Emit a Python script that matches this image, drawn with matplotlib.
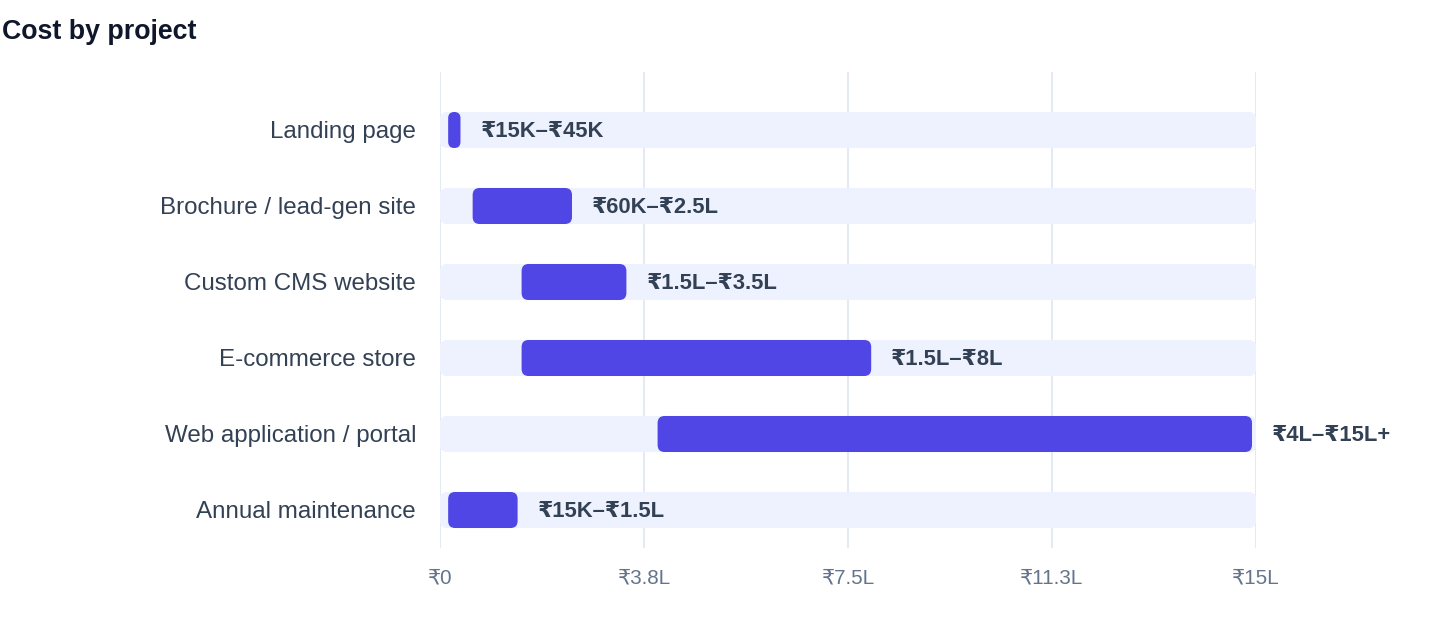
import matplotlib
matplotlib.use("Agg")
import matplotlib.pyplot as plt
from matplotlib.patches import FancyBboxPatch

plt.rcParams['font.family'] = ['Liberation Sans', 'DejaVu Sans']

projects = ["Landing page", "Brochure / lead-gen site", "Custom CMS website",
            "E-commerce store", "Web application / portal", "Annual maintenance"]
low = [0.15, 0.6, 1.5, 1.5, 4.0, 0.15]      # lakh
high = [0.45, 2.5, 3.5, 8.0, 15.0, 1.5]     # lakh
range_labels = ["₹15K–₹45K", "₹60K–₹2.5L", "₹1.5L–₹3.5L", "₹1.5L–₹8L",
                "₹4L–₹15L+", "₹15K–₹1.5L"]
tick_vals = [0, 3.75, 7.5, 11.25, 15]
tick_labels = ["₹0", "₹3.8L", "₹7.5L", "₹11.3L", "₹15L"]
xmax = 15

W, H = 1440, 636
fig = plt.figure(figsize=(W/100, H/100), dpi=100)
ax_l, ax_r, ax_t, ax_b = 440, 1256, 72, 548
ax = fig.add_axes([ax_l/W, 1-ax_b/H, (ax_r-ax_l)/W, (ax_b-ax_t)/H])

ax.set_xlim(0, xmax)
ax.set_ylim(5.5, -0.763)

bar_h = 0.474
px_per_x = (ax_r-ax_l)/xmax
px_per_y = (ax_b-ax_t)/(5.5+0.763)

track_col = "#EEF2FF"
bar_col = "#4F46E5"

def rbox(x0, x1, yc, color, r_px, z, trim_px=0):
    w = x1 - x0 - trim_px/px_per_x
    r = r_px/px_per_x
    r = min(r, w/2)
    p = FancyBboxPatch((x0, yc-bar_h/2), w, bar_h,
                       boxstyle=f"round,pad=0,rounding_size={r}",
                       mutation_aspect=px_per_x/px_per_y,
                       facecolor=color, edgecolor="none", zorder=z)
    ax.add_patch(p)
    return x0 + w

for i, (lo, hi, lab) in enumerate(zip(low, high, range_labels)):
    rbox(0, xmax, i, track_col, 7, 2)
    end = rbox(lo, hi, i, bar_col, 7, 3, trim_px=4)
    ax.annotate(lab, xy=(end, i), xytext=(20*0.72, -2*0.72), textcoords="offset points",
                ha="left", va="center", fontsize=15.8, fontweight="bold",
                color="#334155", zorder=4, annotation_clip=False)

for t in tick_vals:
    ax.axvline(t, color="#E2E8F0", lw=1.3, zorder=1)

ax.set_yticks(range(len(projects)))
ax.set_yticklabels(projects, fontsize=17.4, color="#334155")
ax.set_xticks(tick_vals)
ax.set_xticklabels(tick_labels, fontsize=14.9, color="#64748B")
ax.tick_params(axis='y', length=0, pad=24*0.72)
ax.tick_params(axis='x', length=0, pad=20*0.72)
for s in ax.spines.values():
    s.set_visible(False)

fig.text(2/W, 1-32/H, "Cost by project", ha="left", va="center",
         fontsize=19.3, fontweight="bold", color="#0F172A")

fig.savefig("out.png", dpi=100, facecolor="white")
